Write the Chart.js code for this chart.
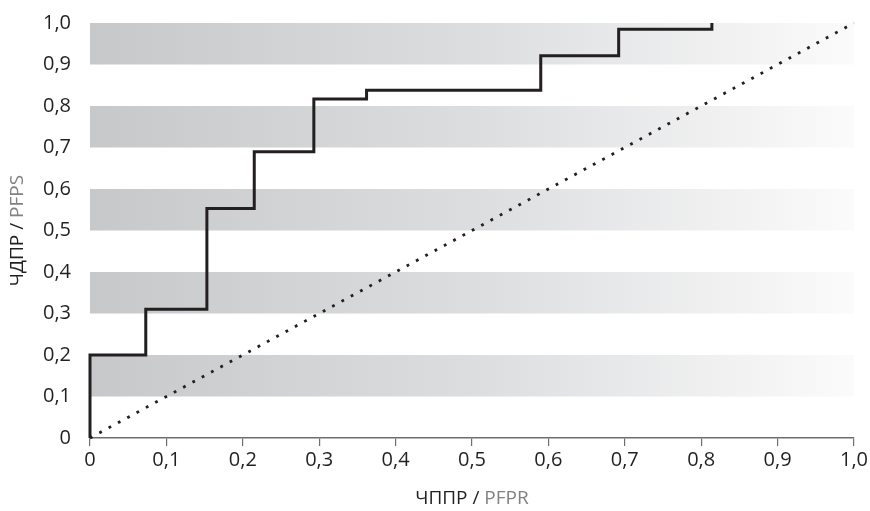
<!DOCTYPE html>
<html>
<head>
<meta charset="utf-8">
<script src="https://cdn.jsdelivr.net/npm/chart.js@4"></script>
<style>
  html, body { margin: 0; padding: 0; background: #fff; }
  #wrap { width: 870px; height: 511px; }
</style>
</head>
<body>
<div id="wrap"><canvas id="roc"></canvas></div>
<script>
// ROC curve corner points (false positive rate, true positive rate)
const fpr = [0, 0, 0.073, 0.153, 0.215, 0.293, 0.362, 0.59, 0.692, 0.814];
const tpr = [0, 0.2, 0.31, 0.553, 0.69, 0.817, 0.838, 0.921, 0.985, 1.0];
const diagX = [0, 1];
const diagY = [0, 1];
const bands = [[0.1, 0.2], [0.3, 0.4], [0.5, 0.6], [0.7, 0.8], [0.9, 1.0]];
const tickValues = [0, 0.1, 0.2, 0.3, 0.4, 0.5, 0.6, 0.7, 0.8, 0.9, 1.0];

const FONT = '"Open Sans", "Noto Sans", sans-serif';
const INK = '#231f20';

function fmt(v) {
    if (Math.abs(v) < 1e-9) return '0';
    return v.toFixed(1).replace('.', ',');
}

// gray bands fading to the right
const bandsPlugin = {
    id: 'bands',
    beforeDatasetsDraw(chart) {
        const { ctx, chartArea, scales } = chart;
        const g = ctx.createLinearGradient(chartArea.left, 0, chartArea.right, 0);
        g.addColorStop(0, '#c7c8ca');
        g.addColorStop(0.5, '#dcdddf');
        g.addColorStop(1, '#fbfbfb');
        ctx.save();
        ctx.fillStyle = g;
        bands.forEach(([lo, hi]) => {
            const y1 = scales.y.getPixelForValue(hi);
            const y2 = scales.y.getPixelForValue(lo);
            ctx.fillRect(chartArea.left, y1, chartArea.right - chartArea.left, y2 - y1);
        });
        ctx.restore();
    }
};

// axis titles with two colours
function twoTone(ctx, parts, x, y) {
    const total = parts.reduce((s, p) => s + ctx.measureText(p[0]).width, 0);
    let cx = x - total / 2;
    parts.forEach(([t, c]) => {
        ctx.fillStyle = c;
        ctx.fillText(t, cx, y);
        cx += ctx.measureText(t).width;
    });
}

const titlesPlugin = {
    id: 'titles',
    afterDraw(chart) {
        const { ctx, chartArea } = chart;
        ctx.save();
        ctx.font = '19px ' + FONT;
        ctx.textBaseline = 'middle';
        ctx.textAlign = 'left';
        twoTone(ctx, [['ЧППР / ', INK], ['PFPR', '#808285']],
            (chartArea.left + chartArea.right) / 2, 499);
        ctx.translate(18, (chartArea.top + chartArea.bottom) / 2);
        ctx.rotate(-Math.PI / 2);
        twoTone(ctx, [['ЧДПР / ', INK], ['PFPS', '#808285']], 0, 0);
        ctx.restore();
    }
};

new Chart(document.getElementById('roc'), {
    type: 'scatter',
    data: {
        datasets: [
            {
                data: diagX.map((x, i) => ({ x, y: diagY[i] })),
                showLine: true,
                borderColor: INK,
                borderWidth: 2.8,
                borderDash: [2.8, 7.8],
                pointRadius: 0,
                clip: 4,
                order: 2
            },
            {
                data: fpr.map((x, i) => ({ x, y: tpr[i] })),
                showLine: true,
                stepped: 'before',
                borderColor: INK,
                borderWidth: 3,
                pointRadius: 0,
                clip: 4,
                order: 1
            }
        ]
    },
    plugins: [bandsPlugin, titlesPlugin],
    options: {
        responsive: true,
        maintainAspectRatio: false,
        animation: false,
        layout: { padding: { left: 0, right: 16, top: 22, bottom: 0 } },
        plugins: { legend: { display: false }, tooltip: { enabled: false } },
        scales: {
            x: {
                type: 'linear',
                min: 0, max: 1,
                afterBuildTicks: (s) => { s.ticks = tickValues.map(v => ({ value: v })); },
                afterFit: (s) => { s.height = 73; },
                ticks: {
                    callback: fmt,
                    color: INK,
                    font: { family: FONT, size: 20 },
                    padding: 2,
                    maxRotation: 0
                },
                grid: { drawOnChartArea: false, tickLength: 8, color: '#6d6e70', lineWidth: 1.2 },
                border: { color: '#6d6e70', width: 1.5 }
            },
            y: {
                type: 'linear',
                min: 0, max: 1,
                afterBuildTicks: (s) => { s.ticks = tickValues.map(v => ({ value: v })); },
                afterFit: (s) => { s.width = 90; },
                ticks: {
                    callback: fmt,
                    color: INK,
                    font: { family: FONT, size: 20 },
                    padding: 11
                },
                grid: { display: false },
                border: { display: false }
            }
        }
    }
});
</script>
</body>
</html>
